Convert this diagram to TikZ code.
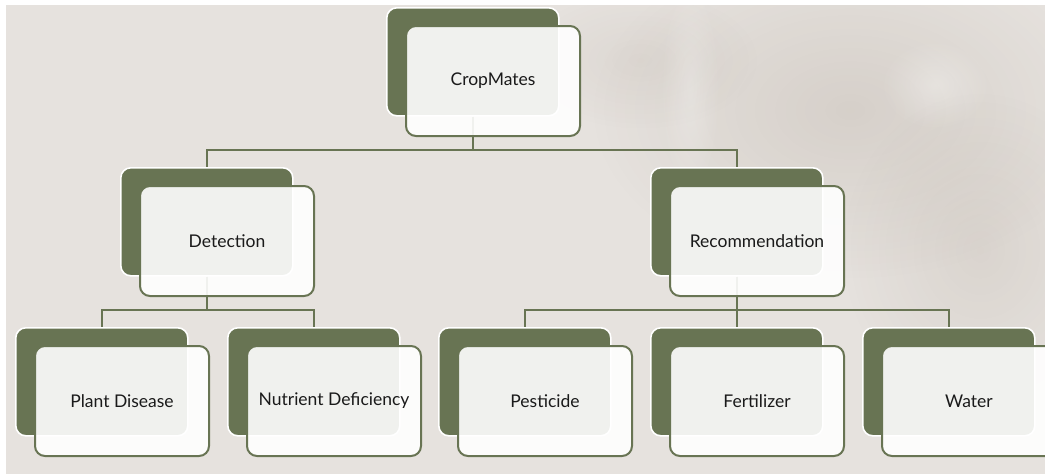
\documentclass[tikz,border=0pt]{standalone}
\usepackage{fontspec}
\setmainfont{Lato}
\usetikzlibrary{fadings}
\definecolor{bg}{HTML}{E6E2DE}
\definecolor{leaf}{HTML}{687453}
\definecolor{ink}{HTML}{1A1A1A}
\tikzfading[name=softspot, inner color=transparent!0, outer color=transparent!100]
\tikzset{
  backbox/.style={draw=white, line width=1.6pt, fill=leaf, rounded corners=10pt,
    minimum width=172pt, minimum height=108pt, anchor=north west, inner sep=0pt},
  frontbox/.style={draw=leaf, line width=2pt, fill=white, fill opacity=0.9,
    text opacity=1, rounded corners=10pt, minimum width=174pt, minimum height=110pt,
    anchor=north west, inner sep=0pt, text=ink, font=\fontsize{17.5}{21}\selectfont},
  link/.style={draw=leaf, line width=2.1pt},
  shadow/.style={fill=black!60!brown, path fading=softspot},
  light/.style={fill=white, path fading=softspot},
}
\begin{document}
\begin{tikzpicture}[x=1pt, y=-1pt]
  \useasboundingbox (0,0) rectangle (1045,474);
  \clip (0,0) rectangle (1045,474);
  % paper background with soft foliage shadows
  \fill[white] (0,0) rectangle (1045,474);
  \fill[bg] (6,5) rectangle (1045,474);
  \begin{scope}
    \clip (6,5) rectangle (1045,474);
    \fill[shadow, fill opacity=0.10] (850,110) ellipse (260 and 170);
    \fill[shadow, fill opacity=0.08] (980,250) ellipse (140 and 160);
    \fill[shadow, fill opacity=0.06] (640,60) ellipse (120 and 70);
    \fill[light, fill opacity=0.30] (935,85) ellipse (55 and 45);
    \fill[light, fill opacity=0.25] (690,90) ellipse (30 and 110);
    \fill[light, fill opacity=0.20] (760,230) ellipse (70 and 40);
  \end{scope}

  % bus lines
  \coordinate (busA) at (0,150);
  \coordinate (busB) at (0,310);

  % back plates
  \node[backbox] (cropB)  at (386,7)   {};
  \node[backbox] (detB)   at (120,167) {};
  \node[backbox] (recB)   at (650,167) {};
  \node[backbox] (plantB) at (15,327)  {};
  \node[backbox] (nutB)   at (227,327) {};
  \node[backbox] (pestB)  at (438,327) {};
  \node[backbox] (fertB)  at (650,327) {};
  \node[backbox] (waterB) at (862,327) {};

  % connectors
  \draw[link] (cropB.south) |- (detB.north |- busA) -- (detB.north);
  \draw[link] (cropB.south) |- (recB.north |- busA) -- (recB.north);
  \draw[link] (detB.south) |- (plantB.north |- busB) -- (plantB.north);
  \draw[link] (detB.south) |- (nutB.north |- busB) -- (nutB.north);
  \draw[link] (recB.south) |- (pestB.north |- busB) -- (pestB.north);
  \draw[link] (recB.south) -- (fertB.north);
  \draw[link] (recB.south) |- (waterB.north |- busB) -- (waterB.north);

  % front cards with labels
  \node[frontbox] (crop)  at (405,25)  {CropMates};
  \node[frontbox] (det)   at (139,185) {Detection};
  \node[frontbox] (rec)   at (669,185) {Recommendation};
  \node[frontbox] (plant) at (34,345)  {Plant Disease};
  \node[frontbox] (nut)   at (246,345) {Nutrient Deficiency};
  \node[frontbox] (pest)  at (457,345) {Pesticide};
  \node[frontbox] (fert)  at (669,345) {Fertilizer};
  \node[frontbox] (water) at (881,345) {Water};
\end{tikzpicture}
\end{document}
